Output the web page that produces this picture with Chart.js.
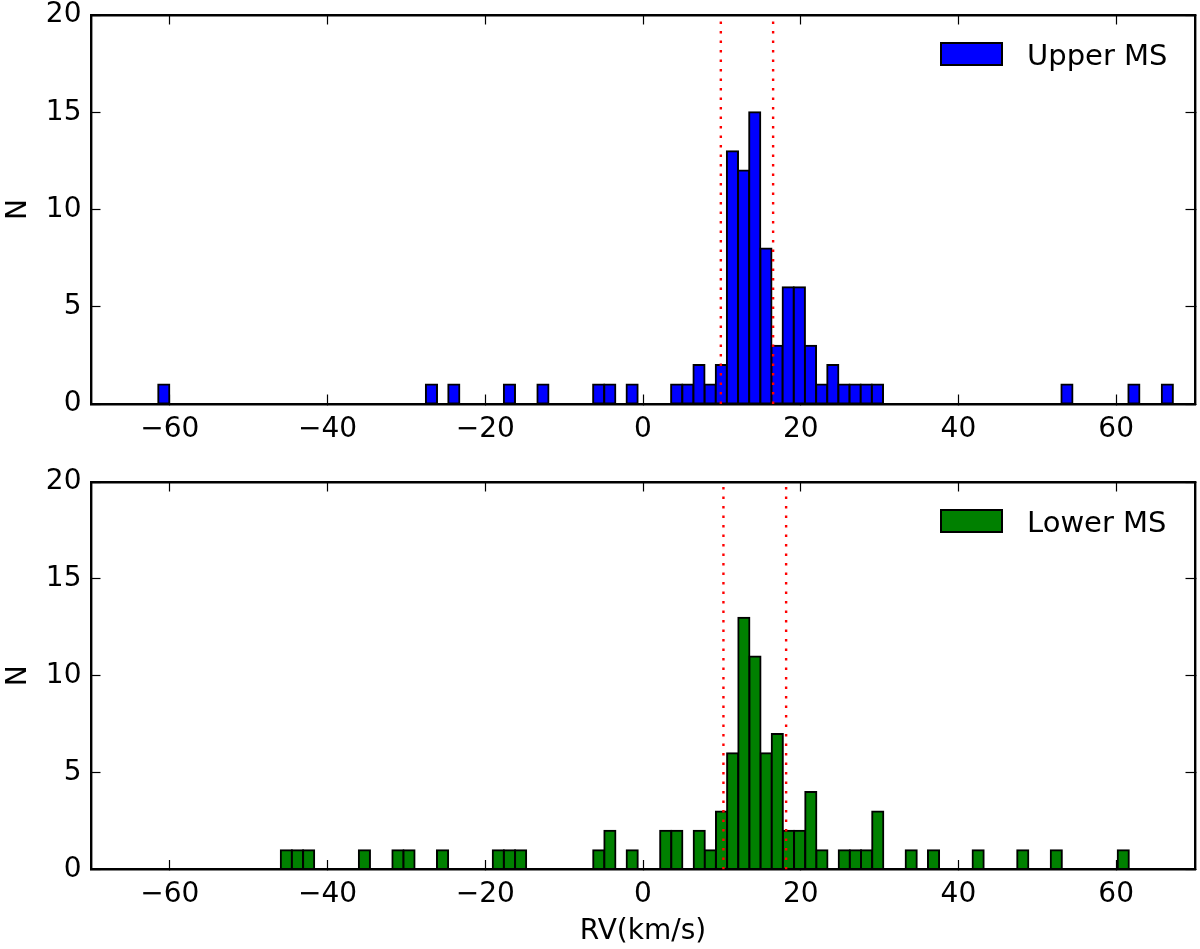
<!DOCTYPE html>
<html>
<head>
<meta charset="utf-8">
<script src="https://cdn.jsdelivr.net/npm/chart.js@4.4.0/dist/chart.umd.min.js"></script>
<style>
  body { margin: 0; background: #fff; }
  #wrap { position: relative; width: 1200px; height: 949px; overflow: hidden; }
  canvas { position: absolute; left: 0; }
  #top { top: 0; }
  #bottom { top: 467px; }
</style>
</head>
<body>
<div id="wrap">
  <canvas id="top" width="1200" height="466"></canvas>
  <canvas id="bottom" width="1200" height="482"></canvas>
</div>
<script>
// bin centres (km/s) and counts, only the non-empty bins
let upperRV = [-60.77, -26.83, -23.99, -16.94, -12.69, -5.62, -4.21, -1.38,
  4.27, 5.69, 7.10, 8.52, 9.93, 11.34, 12.76, 14.17, 15.59, 17.00, 18.41, 19.83,
  21.24, 22.66, 24.07, 25.48, 26.90, 28.31, 29.73, 53.76, 62.25, 66.49];
let upperN = [1, 1, 1, 1, 1, 1, 1, 1,
  1, 1, 2, 1, 2, 13, 12, 15, 8, 3, 6, 6,
  3, 1, 2, 1, 1, 1, 1, 1, 1, 1];

let lowerRV = [-45.23, -43.82, -42.40, -35.33, -31.08, -29.67, -25.42, -18.35, -16.93, -15.52,
  -5.61, -4.20, -1.37, 2.88, 4.29, 7.13, 8.54, 9.96, 11.37, 12.79, 14.20, 15.62, 17.03, 18.45,
  19.86, 21.28, 22.69, 25.52, 26.94, 28.35, 29.77, 34.01, 36.84, 42.50, 48.16, 52.41, 60.90];
let lowerN = [1, 1, 1, 1, 1, 1, 1, 1, 1, 1,
  1, 2, 1, 2, 2, 2, 1, 3, 6, 13, 11, 6, 7, 2,
  2, 4, 1, 1, 1, 1, 3, 1, 1, 1, 1, 1, 1];

// red dotted limits
let upperLimits = [9.87, 16.5];
let lowerLimits = [10.2, 18.15];

let xTicks = [-60, -40, -20, 0, 20, 40, 60];
let yTicks = [0, 5, 10, 15, 20];

Chart.defaults.font.family = "'DejaVu Sans'";
Chart.defaults.font.size = 28;
Chart.defaults.color = "#000";

// legend drawn inside the plot, top right, no frame
let insideLegend = {
  id: "insideLegend",
  afterDraw(chart) {
    let ctx = chart.ctx;
    let area = chart.chartArea;
    let ds = chart.data.datasets.find((d) => d.type == "bar");
    let x = area.right - 254;
    let y = area.top + 28;
    ctx.save();
    ctx.fillStyle = ds.backgroundColor;
    ctx.fillRect(x, y, 61, 22);
    ctx.strokeStyle = "#000";
    ctx.lineWidth = 2;
    ctx.strokeRect(x, y, 61, 22);
    ctx.fillStyle = "#000";
    ctx.font = "29px 'DejaVu Sans'";
    ctx.textBaseline = "alphabetic";
    ctx.fillText(ds.label, x + 86, y + 22);
    ctx.restore();
  },
};

function minus(v) {
  return String(v).replace("-", "\u2212");
}

function axis(pos, ticks, extra) {
  let horiz = pos == "top" || pos == "bottom";
  let a = {
    type: "linear",
    position: pos,
    min: horiz ? -70 : 0,
    max: horiz ? 70 : 20,
    offset: false,
    z: 1,
    afterBuildTicks: (s) => {
      s.ticks = ticks.map((v) => ({ value: v }));
    },
    grid: {
      display: true,
      offset: false,
      drawOnChartArea: false,
      drawTicks: true,
      tickLength: -9.5,
      tickWidth: 1.2,
      color: "#000",
    },
    border: { display: true, color: "#000", width: 2.4 },
    ticks: { display: false },
  };
  return Object.assign(a, extra);
}

function histo(id, rv, counts, color, label, limits, xTitle, bottomH) {
  let datasets = limits.map((v) => ({
    type: "line",
    data: [{ x: v, y: 0 }, { x: v, y: 20 }],
    borderColor: "#ff0000",
    borderWidth: 2.4,
    borderDash: [2.4, 7.1],
    pointRadius: 0,
    order: 0,
  }));
  datasets.push({
    type: "bar",
    label: label,
    data: rv.map((x, i) => ({ x: x, y: counts[i] })),
    backgroundColor: color,
    borderColor: "#000",
    borderWidth: 2,
    inflateAmount: 1,
    borderSkipped: false,
    barPercentage: 1,
    categoryPercentage: 1,
    order: 1,
  });

  return new Chart(document.getElementById(id), {
    type: "bar",
    data: { datasets: datasets },
    plugins: [insideLegend],
    options: {
      responsive: false,
      animation: false,
      devicePixelRatio: 1,
      layout: { padding: 0 },
      plugins: { legend: { display: false }, tooltip: { enabled: false } },
      scales: {
        x: axis("bottom", xTicks, {
          ticks: { display: true, padding: 18, callback: minus, maxRotation: 0, autoSkip: false },
          title: {
            display: xTitle != "",
            text: xTitle,
            padding: { top: 0, bottom: 0 },
          },
          afterFit: (s) => {
            s.height = bottomH;
            s.paddingLeft = 0;
            s.paddingRight = 0;
          },
        }),
        x2: axis("top", xTicks, {
          afterFit: (s) => {
            s.height = 15;
          },
        }),
        y: axis("left", yTicks, {
          ticks: { display: true, padding: 19, callback: minus, autoSkip: false },
          title: { display: true, text: "N", padding: { top: 2, bottom: 0 } },
          afterFit: (s) => {
            s.width = 91;
            s.paddingTop = 0;
            s.paddingBottom = 0;
          },
        }),
        y2: axis("right", yTicks, {
          afterFit: (s) => {
            s.width = 5;
          },
        }),
      },
    },
  });
}

histo("top", upperRV, upperN, "#0000ff", "Upper MS", upperLimits, "", 62);
histo("bottom", lowerRV, lowerN, "#008000", "Lower MS", lowerLimits, "RV(km/s)", 79.5);
</script>
</body>
</html>
